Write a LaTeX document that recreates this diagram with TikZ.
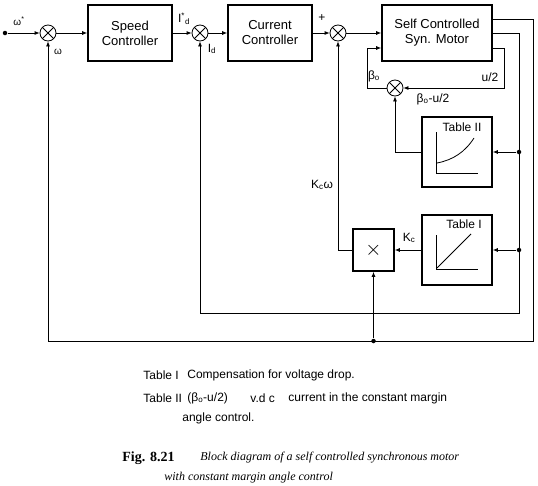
\documentclass[tikz,border=0pt]{standalone}
\usepackage{fontspec}
\setmainfont{Liberation Sans}
\newfontfamily\legendefont{Liberation Serif}
\usetikzlibrary{arrows.meta}

\begin{document}
\begin{tikzpicture}[->,>={Latex[length=5pt,width=4pt]},x=1pt,y=-1pt,line width=0.8pt,
   bloc/.style={draw,->,line width=1.6pt,minimum width=84pt,minimum height=56pt,align=center,font=\fontsize{13}{15}\selectfont},
   table/.style={draw,line width=1.6pt,minimum width=70pt,minimum height=70pt},
   somme/.style={circle,draw,minimum size=16pt,inner sep=0pt,
      path picture={\draw[-] (path picture bounding box.north west) -- (path picture bounding box.south east)
                            (path picture bounding box.north east) -- (path picture bounding box.south west);}},
   point/.style={circle,fill,inner sep=0pt,minimum size=4.5pt},
   etiquette/.style={font=\fontsize{12}{14}\selectfont,inner sep=1pt},
   legende/.style={font=\fontsize{12}{14}\selectfont,anchor=west,inner sep=0pt}]

  \useasboundingbox (0,0) rectangle (538,485);

  % chaine directe
  \node[point] (entree) at (5,33) {};
  \node[somme] (s1) at (48,33) {};
  \node[bloc] (vitesse) at (130,33) {Speed\\Controller};
  \node[somme] (s2) at (200,33) {};
  \node[bloc] (courant) at (270,33) {Current\\Controller};
  \node[somme] (s3) at (338,33) {};
  \node[bloc,minimum width=110pt] (moteur) at (437,33) {Self Controlled\\Syn. Motor};
  \node[somme] (sb) at (395,88) {};

  % tables et multiplicateur
  \node[table] (table2) at (457,152) {};
  \node[table] (table1) at (457,250) {};
  \node[draw,line width=1.6pt,minimum width=41pt,minimum height=42pt,font=\fontsize{22}{22}\selectfont] (mult) at (373.5,250) {$\times$};

  \node[point] (j1) at (519,152) {};
  \node[point] (j2) at (519,250) {};
  \node[point] (j3) at (373.5,341) {};

  \foreach \from/\to in {entree/s1,s1/vitesse,vitesse/s2,s2/courant,courant/s3,s3/moteur,
                         j1/table2,j2/table1,table1/mult,j3/mult}
    \draw (\from) -- (\to);

  % retours
  \draw ([yshift=14pt]moteur.east) -| (533,341) -| (s1.south);
  \draw ([yshift=0pt]moteur.east) -| (519,313) -| (s2.south);
  \draw ([yshift=-15pt]moteur.east) -| (504,88) -- (sb.east);
  \draw (sb.west) -| (367,48) -- ([yshift=-15pt]moteur.west);
  \draw (table2.west) -| (sb.south);
  \draw (mult.west) -| (s3.south);

  % courbes des tables
  \begin{scope}[shift={(table2.center)},-,line width=0.8pt]
    \draw (-21,-20) -- (-21,21) -- (21,21);
    \draw (-20,11) .. controls (-4,8) and (8,0) .. (17,-14);
    \node[etiquette] (titre2) at (5,-25) {Table II};
  \end{scope}
  \begin{scope}[shift={(table1.center)},-,line width=0.8pt]
    \draw (-21,-15) -- (-21,19) -- (21,19);
    \draw (-20,18) -- (14,-16);
    \node[etiquette] (titre1) at (7,-26) {Table I};
  \end{scope}

  % etiquettes
  \node[etiquette,font=\fontsize{10}{12}\selectfont] (wref) at (19,21) {ω\textsuperscript{*}};
  \node[etiquette,font=\fontsize{10}{12}\selectfont] (w) at (58,52) {ω};
  \node[etiquette] (idref) at (184,19) {I\textsuperscript{*}\textsubscript{d}};
  \node[etiquette] (id) at (212,49) {I\textsubscript{d}};
  \node[etiquette] (plus) at (322,18) {+};
  \node[etiquette] (beta) at (374,76) {β\textsubscript{o}};
  \node[etiquette] (u) at (490,77) {u/2};
  \node[etiquette] (betau) at (433,99) {β\textsubscript{o}-u/2};
  \node[etiquette] (kw) at (322,185) {K\textsubscript{c}ω};
  \node[etiquette] (k) at (409,238) {K\textsubscript{c}};

  % legende
  \node[legende] (l1) at (143,375) {Table I};
  \node[legende] (l2) at (187,375) {Compensation for voltage drop.};
  \node[legende] (l3) at (143,398) {Table II};
  \node[legende] (l4) at (187,398) {(β\textsubscript{o}-u/2)};
  \node[legende] (l5) at (250,398) {v.d c};
  \node[legende] (l6) at (288,398) {current in the constant margin};
  \node[legende] (l7) at (182,418) {angle control.};

  \node[legende,font=\legendefont\fontsize{14}{16}\selectfont\bfseries] (fig) at (122,458) {Fig. 8.21};
  \node[legende,font=\legendefont\fontsize{12}{14}\selectfont\itshape] (c1) at (200,458) {Block diagram of a self controlled synchronous motor};
  \node[legende,font=\legendefont\fontsize{12}{14}\selectfont\itshape] (c2) at (164,478) {with constant margin angle control};
\end{tikzpicture}
\end{document}
